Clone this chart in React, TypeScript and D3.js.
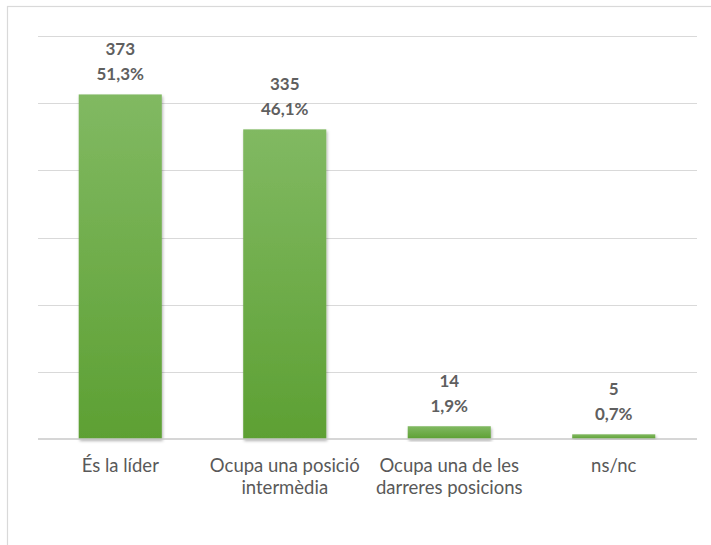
import React from "react";
import * as d3 from "d3";

const categories = ["És la líder", "Ocupa una posició intermèdia", "Ocupa una de les darreres posicions", "ns/nc"];
const categoryLines = [["És la líder"], ["Ocupa una posició", "intermèdia"], ["Ocupa una de les", "darreres posicions"], ["ns/nc"]];
const counts = [373, 335, 14, 5];
const percents = [51.3, 46.1, 1.9, 0.7];
const yTicks = [0, 10, 20, 30, 40, 50, 60];

const W = 711;
const H = 545;
const FONT = "Lato, 'Liberation Sans', sans-serif";

export default function App() {
  const x = d3.scaleBand<string>().domain(categories).range([38, 696]).paddingInner(0.495).paddingOuter(0.2475);
  const y = d3.scaleLinear().domain([0, 60]).range([439, 36]);
  const fmt = (v: number) => v.toFixed(1).replace(".", ",") + "%";
  const bw = x.bandwidth();
  return (
    <svg width={W} height={H} style={{ position: "absolute", left: 0, top: 0, background: "#fff" }} fontFamily={FONT}>
      <defs>
        <linearGradient id="barGrad" x1="0" y1="0" x2="0" y2="1">
          <stop offset="0" stopColor="#81b962" />
          <stop offset="1" stopColor="#5da033" />
        </linearGradient>
        <filter id="shadow" x="-20%" y="-20%" width="140%" height="140%">
          <feDropShadow dx="1" dy="2" stdDeviation="1.5" floodColor="#000" floodOpacity="0.3" />
        </filter>
      </defs>
      <rect x={7.5} y={6.5} width={W} height={H} fill="#fff" stroke="#d9d9d9" strokeWidth={1.2} />
      {yTicks.slice(1).map((t) => (
        <line key={t} x1={38} x2={697} y1={Math.round(y(t)) + 0.5} y2={Math.round(y(t)) + 0.5} stroke="#d9d9d9" strokeWidth={1.2} />
      ))}
      {categories.map((c, i) => (
        <rect key={c} x={x(c)!} width={bw} y={y(percents[i])} height={y(0) - y(percents[i])} fill="url(#barGrad)" filter="url(#shadow)" />
      ))}
      <line x1={38} x2={697} y1={y(0)} y2={y(0)} stroke="#c8c8c8" strokeWidth={1.6} />
      {categories.map((c, i) => {
        const cx = x(c)! + bw / 2;
        const top = y(percents[i]);
        return (
          <g key={c} fill="#5f5f5f" fontWeight="bold" fontSize={17} textAnchor="middle">
            <text x={cx} y={top - 39}>{counts[i]}</text>
            <text x={cx} y={top - 14.5}>{fmt(percents[i])}</text>
          </g>
        );
      })}
      {categories.map((c, i) => {
        const cx = x(c)! + bw / 2;
        return (
          <g key={c} fill="#595959" fontSize={18.5} textAnchor="middle">
            {categoryLines[i].map((l, j) => (
              <text key={j} x={cx} y={472 + j * 22}>{l}</text>
            ))}
          </g>
        );
      })}
    </svg>
  );
}
